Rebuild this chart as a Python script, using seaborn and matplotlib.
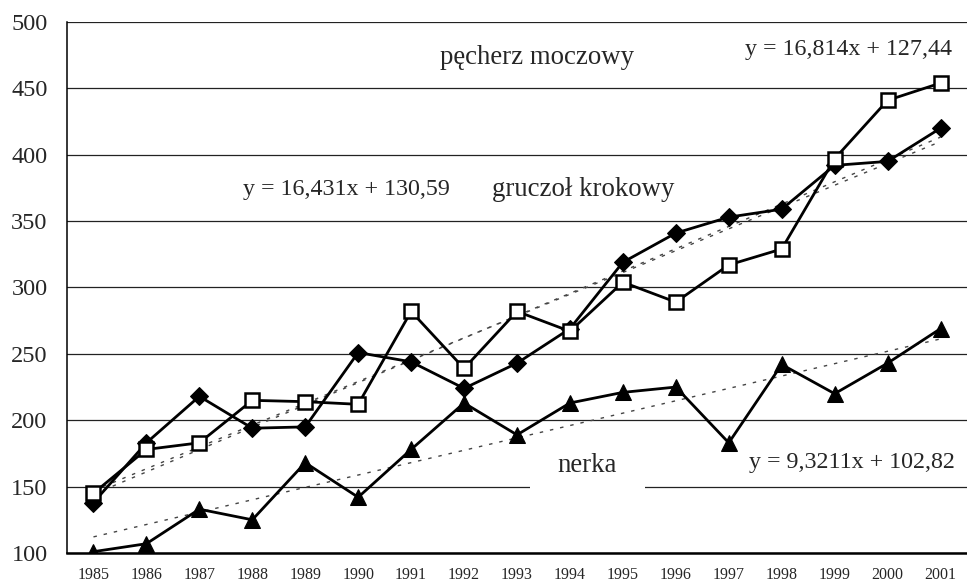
import numpy as np
import pandas as pd
import matplotlib
matplotlib.use("Agg")
import matplotlib.pyplot as plt
import seaborn as sns

# lata i wartości
lata = ['1985', '1986', '1987', '1988', '1989', '1990', '1991', '1992', '1993',
        '1994', '1995', '1996', '1997', '1998', '1999', '2000', '2001']
pecherz = [145, 178, 183, 215, 214, 212, 282, 239, 282, 267, 304, 289, 317, 329, 397, 441, 454]
gruczol = [138, 183, 218, 194, 195, 251, 244, 224, 243, 269, 319, 341, 353, 359, 392, 395, 420]
nerka = [101, 107, 133, 125, 168, 142, 178, 213, 189, 213, 221, 225, 183, 242, 220, 243, 269]

# współczynniki linii trendu (y = a*x + b, x = 1..17)
trend_a = [16.814, 16.431, 9.3211]
trend_b = [127.44, 130.59, 102.82]

sns.set_style('white')
plt.rcParams['font.family'] = ['Liberation Serif', 'DejaVu Serif']

df = pd.DataFrame({'idx': np.arange(len(lata)), 'pecherz': pecherz,
                   'gruczol': gruczol, 'nerka': nerka})

fig = plt.figure(figsize=(9.67, 5.87), dpi=100)
ax = fig.add_axes([67 / 967, 34 / 587, 900 / 967, 531 / 587])

# linie trendu
for a, b in zip(trend_a, trend_b):
    xt = df['idx'] + 1
    ax.plot(df['idx'], a * xt + b, color='#444444', lw=1.0,
            linestyle=(0, (2.5, 5)), zorder=3)

sns.lineplot(data=df, x='idx', y='gruczol', ax=ax, color='black', lw=2.0,
             marker='D', markersize=9.5, markerfacecolor='black',
             markeredgecolor='black', zorder=4)
sns.lineplot(data=df, x='idx', y='pecherz', ax=ax, color='black', lw=2.0,
             marker='s', markersize=10, markerfacecolor='white',
             markeredgecolor='black', markeredgewidth=1.8, zorder=5)
sns.lineplot(data=df, x='idx', y='nerka', ax=ax, color='black', lw=2.0,
             marker='^', markersize=11.5, markerfacecolor='black',
             markeredgecolor='black', zorder=4)

ax.set_xlim(-0.5, len(lata) - 0.5)
ax.set_ylim(100, 500)
ax.set_yticks(range(100, 501, 50))
ax.set_xticks(df['idx'])
ax.set_xticklabels(lata, fontsize=11.5)
ax.set_xticks(np.arange(-0.5, len(lata), 1), minor=True)
ax.tick_params(axis='x', which='major', length=0, pad=10)
ax.tick_params(axis='x', which='minor', length=5, width=1.0, direction='out', color='black')
ax.tick_params(axis='y', length=6, width=1.0, direction='out', color='black',
               labelsize=17.5, pad=8)
ax.set_xlabel('')
ax.set_ylabel('')

ax.set_axisbelow(True)
ax.yaxis.grid(True, color='#222222', lw=0.9)
ax.spines['top'].set_visible(False)
ax.spines['right'].set_visible(False)
ax.spines['left'].set_color('black')
ax.spines['left'].set_linewidth(1.1)
ax.spines['bottom'].set_color('black')
ax.spines['bottom'].set_linewidth(1.8)

fs_eq = 17.3
fs_lab = 19.3
ax.text(8.37, 473, 'pęcherz moczowy', ha='center', va='center', fontsize=fs_lab)
ax.text(16.22, 479, 'y = 16,814x + 127,44', ha='right', va='center', fontsize=fs_eq)
ax.text(2.83, 374, 'y = 16,431x + 130,59', ha='left', va='center', fontsize=fs_eq)
ax.text(7.52, 374, 'gruczoł krokowy', ha='left', va='center', fontsize=fs_lab)
ax.text(9.33, 166, 'nerka', ha='center', va='center', fontsize=fs_lab, zorder=1.5,
        bbox=dict(boxstyle='square,pad=1.05', facecolor='white', edgecolor='none'))
ax.text(16.28, 168, 'y = 9,3211x + 102,82', ha='right', va='center', fontsize=fs_eq)

fig.savefig('out.png', dpi=100)
